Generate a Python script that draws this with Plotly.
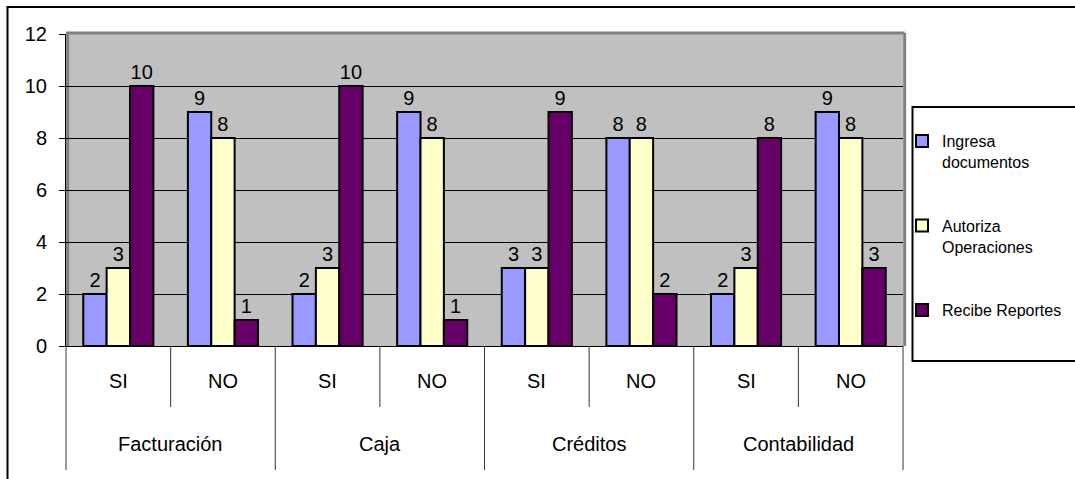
import plotly.graph_objects as go

areas = ["Facturación", "Facturación", "Caja", "Caja", "Créditos", "Créditos", "Contabilidad", "Contabilidad"]
answers = ["SI", "NO", "SI", "NO", "SI", "NO", "SI", "NO"]

series_names = ["Ingresa<br>documentos", "Autoriza<br>Operaciones", "Recibe Reportes"]
ingresa = [2, 9, 2, 9, 3, 8, 2, 9]
autoriza = [3, 8, 3, 8, 3, 8, 3, 8]
recibe = [10, 1, 10, 1, 9, 2, 8, 3]
colors = ["#9999FF", "#FFFFCC", "#660066"]

y_ticks = [0, 2, 4, 6, 8, 10, 12]

W, H = 1075, 479
L, R, T, B = 66, 172, 34, 133
pw, ph = W - L - R, H - T - B

def px_x(x):
    return (x - L) / pw

def px_y(y):
    return (H - B - y) / ph

FONT = "Liberation Sans, Arial, sans-serif"
FS = 20

fig = go.Figure()
for i, (name, vals) in enumerate(zip(series_names, [ingresa, autoriza, recibe])):
    fig.add_trace(go.Bar(
        x=[areas, answers], y=vals, name=name,
        marker=dict(color=colors[i], line=dict(color="black", width=2)),
        text=vals, textposition="outside",
        textfont=dict(size=FS, color="black", family=FONT),
        cliponaxis=False, legendgroup=str(i),
    ))

def hline(x0, x1, y, color="black", width=2, layer="above"):
    return dict(type="line", xref="paper", yref="paper", x0=px_x(x0), x1=px_x(x1),
                y0=px_y(y), y1=px_y(y), line=dict(color=color, width=width), layer=layer)

def vline(x, y0, y1, color="black", width=2, layer="above"):
    return dict(type="line", xref="paper", yref="paper", x0=px_x(x), x1=px_x(x),
                y0=px_y(y0), y1=px_y(y1), line=dict(color=color, width=width), layer=layer)

n = len(answers)
shapes = [
    # outer chart border (top and left edges visible)
    hline(7, 1080, 7),
    vline(7.5, 6, 485),
    # plot area border (left, top & right darker gray)
    dict(type="line", xref="paper", yref="paper", x0=0.002, x1=0.002, y0=0, y1=1.003,
         line=dict(color="#808080", width=3), layer="below"),
    dict(type="line", xref="paper", yref="paper", x0=0, x1=1.002, y0=1.003, y1=1.003,
         line=dict(color="#808080", width=3)),
    dict(type="line", xref="paper", yref="paper", x0=1.002, x1=1.002, y0=0, y1=1.003,
         line=dict(color="#808080", width=3)),
    # legend box (right edge outside the picture)
    hline(912, 1080, 107),
    hline(912, 1080, 361),
    vline(912.5, 106, 362),
]
annotations = []
# category boundaries: outer groups long, inner SI/NO short
for k in range(n + 1):
    is_group = (k == 0 or k == n or areas[k] != areas[k - 1])
    shapes.append(dict(type="line", xref="paper", yref="paper",
                       x0=k / n, x1=k / n, y0=0, y1=px_y(470 if is_group else 407),
                       line=dict(color="#333333", width=1)))
for i, a in enumerate(answers):
    annotations.append(dict(xref="paper", yref="paper", x=(i + 0.5) / n, y=px_y(381),
                            text=a, showarrow=False, xanchor="center", yanchor="middle",
                            font=dict(size=FS, family=FONT, color="black")))
i = 0
while i < n:
    j = i
    while j < n and areas[j] == areas[i]:
        j += 1
    annotations.append(dict(xref="paper", yref="paper", x=(i + j) / 2 / n, y=px_y(444),
                            text=areas[i], showarrow=False, xanchor="center", yanchor="middle",
                            font=dict(size=FS, family=FONT, color="black")))
    i = j

fig.update_layout(
    width=W, height=H,
    margin=dict(l=L, r=R, t=T, b=B, pad=0, autoexpand=False),
    paper_bgcolor="white", plot_bgcolor="#C0C0C0",
    font=dict(family=FONT, size=FS, color="black"),
    barmode="group", bargap=0.33, bargroupgap=0,
    showlegend=True,
    legend=dict(x=px_x(902), y=px_y(124), xanchor="left", yanchor="top",
                bgcolor="rgba(0,0,0,0)", borderwidth=0, valign="top",
                font=dict(size=16, family=FONT, color="black"),
                tracegroupgap=40, traceorder="grouped", itemclick=False),
    shapes=shapes, annotations=annotations,
)
fig.update_yaxes(range=[0, 12], tickvals=y_ticks, showgrid=True, gridcolor="black", gridwidth=1,
                 ticks="outside", ticklen=6, tickcolor="black", showline=True, linecolor="black",
                 linewidth=1, zeroline=False, tickfont=dict(size=FS), ticklabelstandoff=8)
fig.update_xaxes(type="multicategory", showticklabels=False, showdividers=False, ticks="",
                 showline=True, linecolor="black", linewidth=1)

fig.write_html("out.html")
